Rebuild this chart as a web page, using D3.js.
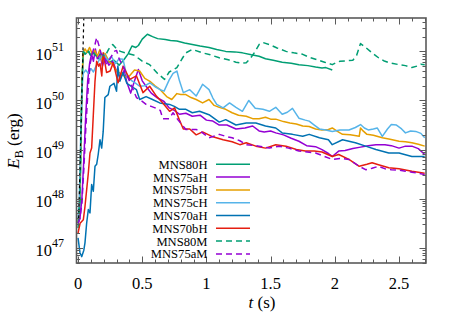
<!DOCTYPE html>
<html>
<head>
<meta charset="utf-8">
<script src="https://cdn.jsdelivr.net/npm/d3@7"></script>
<style>
  body { margin: 0; background: #fff; }
  svg { display: block; font-family: "Liberation Serif", "Times New Roman", serif; }
</style>
</head>
<body>
<div id="chart"></div>
<script>
// values: [t (s), log10 E_B (erg)]
var MNS80H = [[0,47.4],[0.015,47.9],[0.03,50.2],[0.04,51.0],[0.06,50.95],[0.08,51.02],[0.1,50.92],[0.13,50.98],[0.16,50.85],[0.2,50.9],[0.24,50.78],[0.28,50.82],[0.32,50.72],[0.36,50.84],[0.39,50.95],[0.42,51.11],[0.45,51.08],[0.47,51.12],[0.5,51.25],[0.54,51.35],[0.58,51.3],[0.62,51.26],[0.68,51.24],[0.72,51.22],[0.77,51.21],[0.83,51.17],[0.89,51.14],[0.95,51.11],[1.02,51.08],[1.08,51.04],[1.15,51.0],[1.22,50.99],[1.28,50.97],[1.35,50.93],[1.41,50.9],[1.46,50.85],[1.52,50.82],[1.59,50.78],[1.66,50.76],[1.72,50.73],[1.79,50.71],[1.85,50.68],[1.9,50.66],[1.93,50.67],[1.98,50.62]];

var MNS75aH = [[0,47.5],[0.015,47.6],[0.03,48.0],[0.045,48.8],[0.06,49.7],[0.075,50.4],[0.09,50.75],[0.105,50.95],[0.12,50.8],[0.135,51.05],[0.15,50.85],[0.17,50.95],[0.19,50.7],[0.21,50.88],[0.24,50.72],[0.27,50.8],[0.3,50.6],[0.33,50.45],[0.36,50.62],[0.38,50.37],[0.41,50.15],[0.44,50.4],[0.47,50.63],[0.5,50.4],[0.53,50.29],[0.57,50.15],[0.62,50.05],[0.67,49.98],[0.71,49.85],[0.75,49.8],[0.79,49.72],[0.84,49.74],[0.89,49.68],[0.95,49.7],[1.0,49.6],[1.05,49.58],[1.1,49.5],[1.16,49.5],[1.23,49.42],[1.3,49.44],[1.36,49.48],[1.41,49.38],[1.45,49.36],[1.5,49.38],[1.54,49.34],[1.6,49.3],[1.66,49.23],[1.72,49.17],[1.78,49.08],[1.85,49.06],[1.9,49.0],[1.95,48.92],[1.98,48.86],[2.03,48.97],[2.08,48.98],[2.14,49.02],[2.2,49.05],[2.26,49.08],[2.32,49.1],[2.39,49.1],[2.44,49.08],[2.5,49.03],[2.55,49.07],[2.6,49.07],[2.65,49.02],[2.7,48.9]];

var MNS75bH = [[0,47.5],[0.015,48.2],[0.03,50.4],[0.04,50.98],[0.055,51.05],[0.07,50.98],[0.09,51.08],[0.11,50.95],[0.13,51.02],[0.15,50.9],[0.17,51.04],[0.19,50.78],[0.21,50.96],[0.24,50.8],[0.27,50.73],[0.3,50.6],[0.33,50.55],[0.37,50.48],[0.4,50.5],[0.44,50.62],[0.48,50.6],[0.52,50.45],[0.56,50.39],[0.6,50.3],[0.64,50.22],[0.69,50.08],[0.73,50.02],[0.77,50.14],[0.8,50.12],[0.84,50.12],[0.88,50.06],[0.92,50.02],[0.97,49.95],[1.02,50.02],[1.06,49.9],[1.1,49.86],[1.15,49.82],[1.2,49.75],[1.25,49.7],[1.31,49.68],[1.36,49.63],[1.41,49.63],[1.46,49.66],[1.5,49.62],[1.54,49.62],[1.6,49.57],[1.65,49.54],[1.7,49.52],[1.75,49.48],[1.8,49.47],[1.85,49.42],[1.9,49.4],[1.95,49.41],[1.98,49.44],[2.02,49.37],[2.06,49.31],[2.12,49.3],[2.19,49.27],[2.2,49.44],[2.22,49.38],[2.25,49.31],[2.3,49.29],[2.37,49.24],[2.43,49.21],[2.5,49.17],[2.55,49.16],[2.6,49.14],[2.65,49.11],[2.7,49.07]];

var MNS75cH = [[0,47.6],[0.01,48.0],[0.02,49.2],[0.03,50.2],[0.04,50.55],[0.06,50.62],[0.08,50.55],[0.1,50.65],[0.12,50.58],[0.14,50.7],[0.17,50.85],[0.2,50.95],[0.23,50.82],[0.26,50.9],[0.29,50.75],[0.32,50.85],[0.35,50.84],[0.38,50.5],[0.42,50.4],[0.45,50.35],[0.48,50.29],[0.52,50.3],[0.56,50.36],[0.6,50.28],[0.64,50.22],[0.67,50.19],[0.71,50.42],[0.74,50.55],[0.77,50.6],[0.79,50.4],[0.82,50.16],[0.87,50.22],[0.92,50.09],[0.97,50.33],[1.02,50.22],[1.05,50.05],[1.08,49.92],[1.13,49.85],[1.18,49.95],[1.23,49.86],[1.28,49.78],[1.33,50.0],[1.38,49.84],[1.44,49.82],[1.49,49.78],[1.54,49.86],[1.59,49.72],[1.63,49.76],[1.67,49.84],[1.72,49.64],[1.77,49.6],[1.8,49.58],[1.84,49.5],[1.88,49.42],[1.93,49.4],[1.98,49.37],[2.04,49.4],[2.11,49.4],[2.16,49.45],[2.2,49.51],[2.23,49.44],[2.26,49.4],[2.3,49.42],[2.33,49.44],[2.37,49.27],[2.41,49.42],[2.44,49.51],[2.48,49.5],[2.52,49.42],[2.55,49.34],[2.59,49.38],[2.63,49.37],[2.67,49.33],[2.7,49.24]];

var MNS70aH = [[0,47.2],[0.015,46.9],[0.029,46.82],[0.045,46.95],[0.054,47.1],[0.067,47.5],[0.08,47.78],[0.093,47.71],[0.106,48.29],[0.119,48.15],[0.132,48.66],[0.145,48.7],[0.157,48.9],[0.171,49.2],[0.184,49.03],[0.196,49.37],[0.209,50.06],[0.235,50.12],[0.248,50.29],[0.28,50.35],[0.3,50.19],[0.31,50.7],[0.326,50.39],[0.35,50.57],[0.38,50.35],[0.43,50.26],[0.455,50.22],[0.48,50.02],[0.53,50.08],[0.58,50.02],[0.636,49.95],[0.713,49.92],[0.75,49.88],[0.79,49.82],[0.84,49.82],[0.89,49.75],[0.946,49.78],[1.02,49.71],[1.1,49.56],[1.15,49.61],[1.23,49.5],[1.31,49.54],[1.385,49.54],[1.46,49.48],[1.54,49.44],[1.59,49.34],[1.67,49.31],[1.75,49.27],[1.8,49.31],[1.88,49.24],[1.95,49.2],[1.98,49.1],[2.06,49.2],[2.16,49.14],[2.24,49.07],[2.32,49.0],[2.42,48.93],[2.5,48.93],[2.6,48.86],[2.7,48.86]];

var MNS70bH = [[0,47.3],[0.016,47.5],[0.041,47.57],[0.054,47.84],[0.067,48.18],[0.08,48.52],[0.093,48.93],[0.106,49.03],[0.119,49.71],[0.132,50.39],[0.145,50.8],[0.16,50.7],[0.171,50.75],[0.185,50.5],[0.196,50.97],[0.222,50.57],[0.25,50.6],[0.274,50.77],[0.312,50.36],[0.351,50.7],[0.403,50.43],[0.455,50.5],[0.506,50.16],[0.558,50.29],[0.61,50.09],[0.66,49.95],[0.713,49.78],[0.752,49.85],[0.79,49.6],[0.82,49.42],[0.87,49.42],[0.92,49.3],[0.97,49.36],[1.05,49.26],[1.13,49.2],[1.2,49.16],[1.26,49.1],[1.31,49.14],[1.385,49.07],[1.46,49.03],[1.54,49.1],[1.62,49.07],[1.7,49.0],[1.77,48.97],[1.84,48.97],[1.9,48.95],[1.98,48.86],[2.03,48.9],[2.11,48.8],[2.19,48.66],[2.25,48.7],[2.29,48.73],[2.34,48.69],[2.42,48.63],[2.5,48.61],[2.6,48.56],[2.7,48.52]];

var MNS80M = [[0,47.5],[0.015,48.0],[0.03,50.3],[0.04,51.0],[0.06,50.92],[0.08,51.0],[0.1,50.9],[0.12,50.97],[0.15,50.88],[0.18,50.95],[0.21,50.9],[0.24,51.05],[0.27,51.14],[0.3,51.05],[0.33,51.0],[0.38,50.96],[0.44,50.92],[0.5,50.8],[0.558,50.73],[0.62,50.55],[0.674,50.43],[0.71,50.58],[0.77,50.67],[0.81,50.85],[0.84,50.97],[0.89,51.04],[0.97,50.97],[1.03,50.93],[1.1,50.87],[1.17,50.83],[1.23,50.78],[1.27,50.76],[1.31,50.77],[1.34,50.85],[1.38,51.0],[1.41,51.14],[1.44,51.18],[1.49,51.14],[1.55,51.07],[1.62,51.0],[1.68,50.97],[1.75,50.94],[1.8,50.88],[1.85,50.84],[1.92,50.78],[1.98,50.73],[2.01,50.77],[2.04,50.8],[2.1,50.81],[2.14,50.82],[2.17,50.92],[2.2,51.16],[2.24,51.08],[2.29,50.97],[2.34,50.87],[2.38,50.81],[2.42,50.77],[2.5,50.73],[2.55,50.71],[2.6,50.67],[2.64,50.7],[2.67,50.74],[2.7,50.73]];

var MNS75aM = [[0,47.5],[0.015,47.6],[0.03,47.9],[0.045,48.6],[0.06,49.4],[0.075,50.1],[0.093,50.73],[0.11,50.95],[0.132,51.14],[0.145,51.28],[0.165,51.1],[0.18,50.95],[0.2,50.9],[0.22,50.75],[0.25,50.85],[0.28,51.0],[0.3,51.02],[0.32,50.85],[0.35,50.7],[0.4,50.4],[0.455,50.06],[0.5,49.98],[0.53,49.92],[0.57,49.88],[0.6,49.85],[0.64,49.8],[0.66,49.63],[0.71,49.63],[0.74,49.75],[0.78,49.6],[0.84,49.41],[0.92,49.41],[0.97,49.34],[1.02,49.24],[1.1,49.31],[1.15,49.27],[1.2,49.24],[1.26,49.18],[1.31,49.1],[1.41,49.07],[1.49,49.03],[1.57,49.07],[1.64,49.03],[1.72,48.97],[1.85,48.93],[1.98,48.8],[2.04,48.82],[2.11,48.8],[2.19,48.66],[2.24,48.59],[2.29,48.62],[2.34,48.66],[2.4,48.6],[2.44,48.59],[2.5,48.58],[2.55,48.56],[2.6,48.54],[2.65,48.52],[2.7,48.49]];

// steep black dashed guide line
var guide = [[0.005,47.6],[0.045,51.68]];

var seriesNames = ["MNS80H", "MNS75aH", "MNS75bH", "MNS75cH", "MNS70aH", "MNS70bH", "MNS80M", "MNS75aM"];
var seriesData = [MNS80H, MNS75aH, MNS75bH, MNS75cH, MNS70aH, MNS70bH, MNS80M, MNS75aM];
var seriesColors = ["#009e73", "#9400d3", "#e69f00", "#56b4e9", "#0072b2", "#e51e10", "#009e73", "#9400d3"];
var seriesDashed = [false, false, false, false, false, false, true, true];

var xTicks = [0, 0.5, 1, 1.5, 2, 2.5];
var yExponents = [47, 48, 49, 50, 51];

var W = 458, H = 321;
var margin = {left: 76.5, right: 32, top: 18, bottom: 58};
var frameColor = "#5a5a5a";

var svg = d3.select("#chart").append("svg")
    .attr("width", W)
    .attr("height", H);

svg.append("rect").attr("width", W).attr("height", H).attr("fill", "#fff");

var x = d3.scaleLinear()
    .domain([-0.012, 2.71])
    .range([margin.left, W - margin.right]);

var y = d3.scaleLog()
    .domain([Math.pow(10, 46.69), Math.pow(10, 51.68)])
    .range([H - margin.bottom, margin.top]);

var x0 = x.range()[0], x1 = x.range()[1];
var y0 = y.range()[0], y1 = y.range()[1];

var defs = svg.append("defs");
defs.append("clipPath").attr("id", "clip")
    .append("rect")
    .attr("x", x0).attr("y", y1)
    .attr("width", x1 - x0).attr("height", y0 - y1);

var line = d3.line()
    .x(function(d) { return x(d[0]); })
    .y(function(d) { return y(Math.pow(10, d[1])); });

var plot = svg.append("g").attr("clip-path", "url(#clip)");

seriesData.forEach(function(data, i) {
    plot.append("path")
        .datum(data)
        .attr("fill", "none")
        .attr("stroke", seriesColors[i])
        .attr("stroke-width", 1.5)
        .attr("stroke-linejoin", "round")
        .attr("stroke-dasharray", seriesDashed[i] ? "6,4" : null)
        .attr("d", line);
});

plot.append("path")
    .datum(guide)
    .attr("fill", "none")
    .attr("stroke", "#000")
    .attr("stroke-width", 1.2)
    .attr("stroke-dasharray", "3,3")
    .attr("d", line);

// ticks (inward, mirrored)
var ticks = svg.append("g").attr("stroke", frameColor).attr("stroke-width", 1);

var xMinor = d3.range(0, 2.71, 0.1);
xMinor.forEach(function(v) {
    var major = xTicks.some(function(t) { return Math.abs(t - v) < 1e-6; });
    var len = major ? 6.5 : 3.5;
    var px = Math.round(x(v)) + 0.5;
    ticks.append("line").attr("x1", px).attr("x2", px).attr("y1", y0).attr("y2", y0 - len);
    ticks.append("line").attr("x1", px).attr("x2", px).attr("y1", y1).attr("y2", y1 + len);
});

yExponents.concat([46]).forEach(function(e) {
    for (var m = 1; m <= 9; m++) {
        var v = m * Math.pow(10, e);
        if (v < y.domain()[0] || v > y.domain()[1]) continue;
        var len = m === 1 ? 6.5 : 3.5;
        var py = Math.round(y(v)) + 0.5;
        ticks.append("line").attr("x1", x0).attr("x2", x0 + len).attr("y1", py).attr("y2", py);
        ticks.append("line").attr("x1", x1).attr("x2", x1 - len).attr("y1", py).attr("y2", py);
    }
});

// frame
svg.append("rect")
    .attr("x", x0).attr("y", y1)
    .attr("width", x1 - x0).attr("height", y0 - y1)
    .attr("fill", "none")
    .attr("stroke", frameColor)
    .attr("stroke-width", 1.6);

// tick labels
svg.append("g").selectAll("text")
    .data(xTicks)
    .enter().append("text")
    .attr("x", function(d) { return x(d); })
    .attr("y", y0 + 26)
    .attr("text-anchor", "middle")
    .attr("font-size", 16.5)
    .attr("fill", "#000")
    .text(function(d) { return d; });

var yl = svg.append("g").selectAll("g")
    .data(yExponents)
    .enter().append("g")
    .attr("transform", function(d) { return "translate(52," + y(Math.pow(10, d)) + ")"; });

yl.append("text")
    .attr("x", 0).attr("y", 8.5)
    .attr("text-anchor", "end")
    .attr("font-size", 16.5)
    .text("10");

yl.append("text")
    .attr("x", 0).attr("y", -0.5)
    .attr("text-anchor", "start")
    .attr("font-size", 12)
    .text(function(d) { return d; });

// axis titles
var ytitle = svg.append("text")
    .attr("transform", "translate(19," + 141 + ") rotate(-90)")
    .attr("text-anchor", "middle")
    .attr("font-size", 17);
ytitle.append("tspan").attr("font-style", "italic").text("E");
ytitle.append("tspan").attr("font-size", 12).attr("dy", 3.5).text("B");
ytitle.append("tspan").attr("dy", -3.5).text(" (erg)");

var xtitle = svg.append("text")
    .attr("x", 262)
    .attr("y", 308)
    .attr("text-anchor", "middle")
    .attr("font-size", 17);
xtitle.append("tspan").attr("font-style", "italic").text("t");
xtitle.append("tspan").text(" (s)");

// legend
var legend = svg.append("g").selectAll("g")
    .data(seriesNames)
    .enter().append("g")
    .attr("transform", function(d, i) { return "translate(0," + (164.3 + i * 12.8) + ")"; });

legend.append("text")
    .attr("x", 207.5)
    .attr("y", 4.5)
    .attr("text-anchor", "end")
    .attr("font-size", 12.6)
    .text(function(d) { return d; });

legend.append("line")
    .attr("x1", 216).attr("x2", 250)
    .attr("y1", 0).attr("y2", 0)
    .attr("stroke", function(d, i) { return seriesColors[i]; })
    .attr("stroke-width", 1.5)
    .attr("stroke-dasharray", function(d, i) { return seriesDashed[i] ? "6,4" : null; });
</script>
</body>
</html>
